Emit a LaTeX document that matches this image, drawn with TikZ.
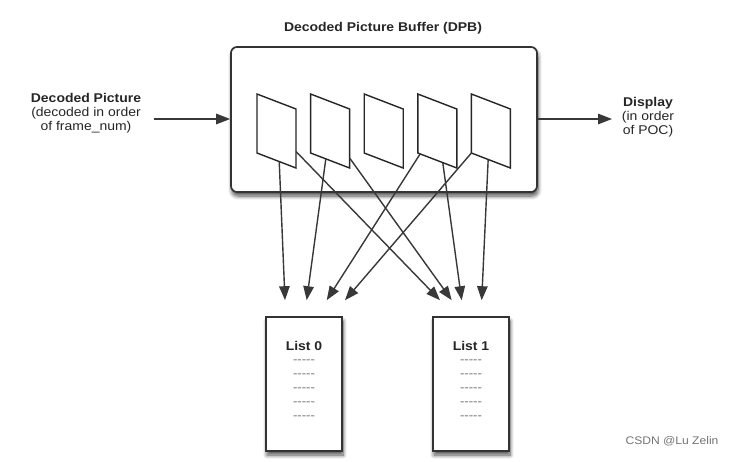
\documentclass[tikz,border=0pt]{standalone}
\usepackage{fontspec}
\setmainfont{Liberation Sans}[FakeStretch=1.1]
\usetikzlibrary{arrows.meta,positioning,calc,shadows,shadows.blur}

\begin{document}
\begin{tikzpicture}[x=1pt, y=-1pt,
    lbl/.style={font=\fontsize{12.7}{14}\selectfont, align=center, text=black!85, inner sep=0pt},
    buf/.style={rectangle, draw=black!80, line width=1.7pt, rounded corners=6pt, fill=white, blur shadow={shadow xshift=1pt, shadow yshift=-4pt, shadow blur radius=4pt, shadow blur steps=8, shadow opacity=70}},
    lst/.style={rectangle, draw=black!80, line width=1.6pt, fill=white, minimum width=76pt, minimum height=134pt, blur shadow={shadow xshift=1pt, shadow yshift=-4pt, shadow blur radius=4pt, shadow blur steps=8, shadow opacity=70}},
    frm/.style={draw=black!85, line width=1.4pt, fill=white, line join=miter},
    arrow/.style={-{Triangle[length=14pt, width=10.5pt]}, line width=1.4pt, draw=black!78},
    dashrow/.style={font=\fontsize{12}{12}\selectfont, text=black!55, inner sep=0pt}
]
    \useasboundingbox (0,0) rectangle (737,461);

    % Decoded Picture Buffer
    \node[buf, minimum width=306pt, minimum height=145pt] (dpb) at (384,119.5) {};
    \node[lbl, font=\fontsize{12.7}{14}\selectfont\bfseries] (dpbtitle) at (383,28) {Decoded Picture Buffer (DPB)};

    % pictures in the buffer
    \foreach \i/\x in {1/257, 2/310.6, 3/364.2, 4/417.8, 5/471.4} {
        \coordinate (p\i-tl) at (\x,94);
        \coordinate (p\i-tr) at (\x+39,109);
        \coordinate (p\i-br) at (\x+39,168);
        \coordinate (p\i-bl) at (\x,153);
        \draw[frm] (p\i-tl) -- (p\i-tr) -- (p\i-br) -- (p\i-bl) -- cycle;
    }

    % input and output
    \node[lbl] (inlbl) at (86,113) {\textbf{Decoded Picture}\\(decoded in order\\of frame\_num)};
    \coordinate (inpt) at (154,119);
    \draw[arrow] (inpt) -- (inpt -| dpb.west);
    \node[lbl] (outlbl) at (648,117) {\textbf{Display}\\(in order\\of POC)};
    \coordinate (outpt) at (612,119);
    \draw[arrow] (outpt -| dpb.east) -- (outpt);

    % reference lists
    \node[lst] (l0) at (304,384) {};
    \node[lst] (l1) at (471,384) {};
    \foreach \l/\n in {l0/0, l1/1} {
        \node[lbl, font=\fontsize{12.7}{14}\selectfont\bfseries] (\l-title) at ($(\l.north)+(0,30)$) {List \n};
        \foreach \k in {0,...,4}
            \node[dashrow] (\l-d\k) at ($(\l.north)+(0,45+14*\k)$) {-{}-{}-{}-{}-};
    }

    % start and end points of the references
    \coordinate (s1) at ($(p1-bl)!0.57!(p1-br)$);
    \coordinate (s2) at ($(p2-bl)!0.39!(p2-br)$);
    \coordinate (s3) at ($(p4-bl)!0.06!(p4-br)$);
    \coordinate (s4) at (p5-bl);
    \coordinate (s5) at ($(p1-tr)!0.72!(p1-br)$);
    \coordinate (s6) at ($(p2-tr)!0.83!(p2-br)$);
    \coordinate (s7) at ($(p4-bl)!0.64!(p4-br)$);
    \coordinate (s8) at ($(p5-bl)!0.43!(p5-br)$);
    \coordinate (e1) at ($(l0.north)+(-19,-16)$);
    \coordinate (e2) at ($(l0.north)+(2.7,-16)$);
    \coordinate (e3) at ($(l0.north)+(22.7,-16)$);
    \coordinate (e4) at ($(l0.north)+(41,-16)$);
    \coordinate (e5) at ($(l1.north)+(-31,-16)$);
    \coordinate (e6) at ($(l1.north)+(-19.3,-16)$);
    \coordinate (e7) at ($(l1.north)+(-9.3,-16)$);
    \coordinate (e8) at ($(l1.north)+(10.7,-16)$);
    \foreach \k in {1,...,8}
        \draw[arrow] (s\k) -- (e\k);

    \node[lbl, font=\fontsize{11}{12}\selectfont, text=black!55] (csdn) at (672,441) {CSDN @Lu Zelin};
\end{tikzpicture}
\end{document}
